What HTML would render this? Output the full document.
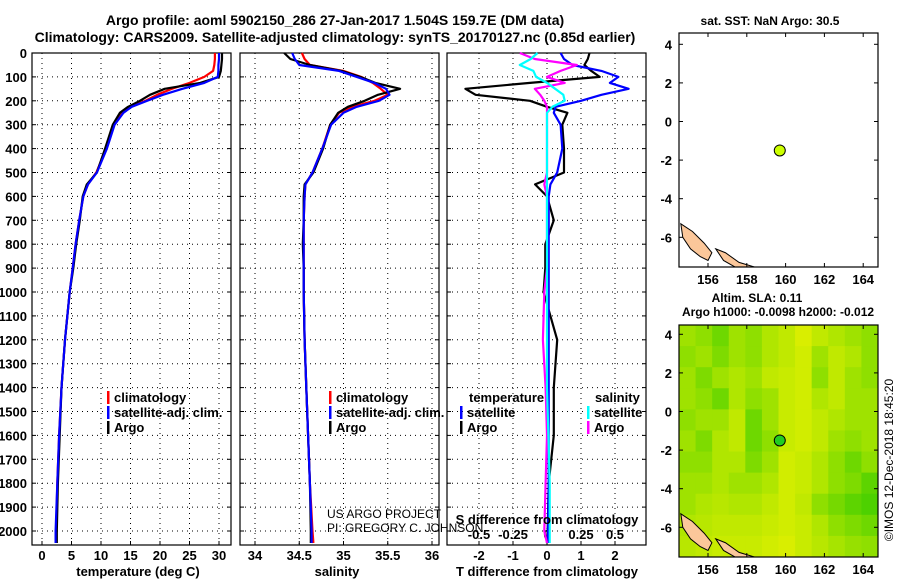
<!DOCTYPE html>
<html><head><meta charset="utf-8"><style>
html,body{margin:0;padding:0;background:#fff;}
svg{display:block;font-family:"Liberation Sans",sans-serif;}
</style></head><body>
<svg id="c" width="900" height="580" viewBox="0 0 900 580" xmlns="http://www.w3.org/2000/svg">
<text x="335" y="25" text-anchor="middle" font-size="14" font-weight="bold">Argo profile: aoml 5902150_286 27-Jan-2017 1.504S 159.7E (DM data)</text>
<text x="335" y="42" text-anchor="middle" font-size="14" font-weight="bold">Climatology: CARS2009. Satellite-adjusted climatology: synTS_20170127.nc (0.85d earlier)</text>
<g id="plots"></g>
<text x="327" y="518" font-size="12">US ARGO PROJECT</text>
<text x="327" y="532" font-size="12">PI: GREGORY C. JOHNSON</text>
<text x="547" y="524" text-anchor="middle" font-size="13" font-weight="bold">S difference from climatology</text>
<text x="138" y="576" text-anchor="middle" font-size="13" font-weight="bold">temperature (deg C)</text>
<text x="337" y="576" text-anchor="middle" font-size="13" font-weight="bold">salinity</text>
<text x="547" y="576" text-anchor="middle" font-size="13" font-weight="bold">T difference from climatology</text>
<text x="770" y="25" text-anchor="middle" font-size="12" font-weight="bold">sat. SST: NaN Argo: 30.5</text>
<text x="757" y="302" text-anchor="middle" font-size="12" font-weight="bold">Altim. SLA: 0.11</text>
<text x="778" y="316" text-anchor="middle" font-size="12" font-weight="bold">Argo h1000: -0.0098 h2000: -0.012</text>
<text transform="translate(893,460) rotate(-90)" text-anchor="middle" font-size="12">©IMOS 12-Dec-2018 18:45:20</text>
</svg>
<script>
// depth levels
const depths=[0,25,50,75,100,125,150,175,200,225,250,300,400,500,550,600,700,800,900,1000,1200,1400,1600,1800,2000,2050];
const tempArgo=[30.5,30.5,30.4,30.3,30,26.8,20.8,18.3,16.6,14.6,13.2,12,10.7,9.3,7.6,6.9,6.4,5.8,5.3,4.7,3.9,3.3,3,2.7,2.5,2.5];
const tempClim=[29.3,29.3,29.2,29,27.5,25,22,19.5,17.5,15,13.6,12.2,10.9,9.2,7.8,7,6.3,5.7,5.2,4.7,3.9,3.3,2.9,2.6,2.4,2.3];
const tempSat=[30,30,29.9,29.9,29.8,27.5,23.8,20.5,17.8,15.2,13.8,12.3,11,9.3,7.8,7,6.3,5.7,5.2,4.7,3.9,3.3,2.9,2.6,2.3,2.3];
const salArgo=[34.33,34.4,34.62,34.98,35.19,35.36,35.64,35.39,35.24,35.05,34.94,34.85,34.77,34.66,34.56,34.55,34.55,34.54,34.55,34.55,34.56,34.58,34.6,34.62,34.63,34.63];
const salClim=[34.53,34.56,34.62,35,35.2,35.33,35.42,35.5,35.35,35.1,34.95,34.85,34.76,34.65,34.57,34.56,34.55,34.55,34.55,34.55,34.56,34.58,34.6,34.62,34.65,34.66];
const salSat=[34.42,34.45,34.5,34.95,35.15,35.35,35.48,35.52,35.4,35.15,35,34.86,34.76,34.65,34.57,34.56,34.55,34.55,34.55,34.55,34.56,34.58,34.6,34.62,34.64,34.64];
const dTArgo=[1.25,1.2,1.1,1.3,1.55,-0.5,-2.4,-2.1,-0.5,0,0.6,0.45,0.5,0.5,-0.35,0,0.2,-0.05,-0.05,-0.1,0.3,0.2,0.2,0.05,0.02,0];
const dTSat=[0.4,0.5,0.75,1.6,2.1,1.85,2.4,1.6,1,0.25,0.2,0.4,0.45,0.3,0.1,0.05,0.05,0.05,0.05,0.05,0.05,0.05,0.05,0.05,0.03,0.03];
const dSSat=[-0.07,-0.12,-0.2,-0.1,-0.08,0,0.06,0.12,0.13,0.04,0,0,0,0,0,0,0,0,0,0,0,0,0.01,0.02,0.02,0.02];
const dSArgo=[-0.2,-0.09,0.22,0.1,0,0.13,-0.09,-0.05,-0.02,0,0,0,0,0,-0.02,0,0,0,0,-0.02,-0.03,-0.01,0,-0.01,-0.02,0];
const depthTicks=[0,100,200,300,400,500,600,700,800,900,1000,1100,1200,1300,1400,1500,1600,1700,1800,1900,2000];
const tTicks=[0,5,10,15,20,25,30];
const sTicks=[34,34.5,35,35.5,36];
const dTTicks=[-2,-1,0,1,2];
const dSTickLabels=["-0.5","-0.25","0","0.25","0.5"];
const dSTicks=[-0.5,-0.25,0,0.25,0.5];
const lonTicks=[156,158,160,162,164];
const latTicks=[4,2,0,-2,-4,-6];
const argoLon=159.7, argoLat=-1.5;
// SLA field (rows top->bottom, cols left->right), 0=green .. 1=yellow
const slaGrid=[
[0.6,0.5,0.3,0.6,0.5,0.7,0.8,0.95,0.8,0.7,0.6,0.5],
[0.5,0.6,0.4,0.6,0.5,0.7,0.8,0.9,0.6,0.8,0.7,0.5],
[0.6,0.4,0.6,0.7,0.6,0.8,0.85,0.9,0.5,0.8,0.6,0.5],
[0.6,0.5,0.3,0.7,0.5,0.6,0.85,0.9,0.7,0.8,0.6,0.6],
[0.5,0.6,0.6,0.8,0.3,0.6,0.85,0.9,0.8,0.7,0.6,0.6],
[0.6,0.4,0.7,0.8,0.3,0.5,0.85,0.9,0.8,0.6,0.5,0.6],
[0.5,0.5,0.7,0.7,0.4,0.6,0.9,0.85,0.7,0.5,0.3,0.5],
[0.6,0.6,0.7,0.6,0.6,0.7,0.9,0.85,0.7,0.5,0.4,0.2],
[0.6,0.7,0.75,0.7,0.7,0.8,0.9,0.8,0.5,0.35,0.2,0.1],
[0.7,0.75,0.8,0.8,0.8,0.85,0.9,0.85,0.7,0.5,0.4,0.3],
[0.75,0.8,0.85,0.85,0.85,0.9,0.95,0.85,0.75,0.65,0.55,0.5]];

const NS="http://www.w3.org/2000/svg";
const root=document.getElementById('plots');
function mk(tag,at,parent){const e=document.createElementNS(NS,tag);for(const k in at)e.setAttribute(k,at[k]);(parent||root).appendChild(e);return e;}
const Y0=53, PY=0.239, PB=545;
const yD=d=>Y0+d*PY;
const panels=[
 {x0:32,x1:231,fx:v=>42+v*5.9,ticks:tTicks,labels:tTicks.map(String)},
 {x0:240,x1:439,fx:v=>255+(v-34)*88.5,ticks:sTicks,labels:sTicks.map(String)},
 {x0:447,x1:646,fx:v=>547+v*34,ticks:dTTicks,labels:dTTicks.map(String)}];
const fS=v=>547+v*136;
panels.forEach((p,i)=>{
  const g=mk('g',{});
  
  
  depthTicks.forEach(d=>{ if(d>0){const l=mk('line',{x1:p.x0,x2:p.x1,y1:yD(d),y2:yD(d),stroke:'#000','stroke-width':1,'stroke-dasharray':'1,4'},g);
    }
    const t1=mk('line',{x1:p.x0,x2:p.x0+4,y1:yD(d),y2:yD(d),stroke:'#000'},g);
    const t2=mk('line',{x1:p.x1-4,x2:p.x1,y1:yD(d),y2:yD(d),stroke:'#000'},g);});
  p.ticks.forEach((v,j)=>{const x=p.fx(v);
    const l=mk('line',{x1:x,x2:x,y1:Y0,y2:PB,stroke:'#000','stroke-dasharray':'1,4'},g);
    const tk=mk('line',{x1:x,x2:x,y1:PB-4,y2:PB,stroke:'#000'},g);
    const t=mk('text',{x:x,y:560,'text-anchor':'middle','font-size':13,'font-weight':'bold'},g);t.textContent=p.labels[j];
    });
  const r=mk('rect',{x:p.x0,y:Y0,width:p.x1-p.x0,height:PB-Y0,fill:'none',stroke:'#000','stroke-width':1.2},g);
  
});
depthTicks.forEach(d=>{const t=mk('text',{x:27,y:yD(d)+5,'text-anchor':'end','font-size':13,'font-weight':'bold'});t.textContent=d;
  });
dSTicks.forEach((v,j)=>{const t=mk('text',{x:fS(v),y:539,'text-anchor':'middle','font-size':13,'font-weight':'bold'});t.textContent=dSTickLabels[j];
  });
function line(vals,fx,color,name){const pts=vals.map((v,i)=>fx(v).toFixed(1)+','+yD(depths[i]).toFixed(1)).join(' ');
  const e=mk('polyline',{points:pts,fill:'none',stroke:color,'stroke-width':2.2,'stroke-linejoin':'round'});
  }
line(tempClim,panels[0].fx,'#f00','temp-climatology-line');
line(tempArgo,panels[0].fx,'#000','temp-argo-line');
line(tempSat,panels[0].fx,'#00f','temp-satellite-line');
line(salClim,panels[1].fx,'#f00','sal-climatology-line');
line(salArgo,panels[1].fx,'#000','sal-argo-line');
line(salSat,panels[1].fx,'#00f','sal-satellite-line');
line(dTArgo,panels[2].fx,'#000','tdiff-argo-line');
line(dTSat,panels[2].fx,'#00f','tdiff-satellite-line');
line(dSArgo,fS,'#f0f','sdiff-argo-line');
line(dSSat,fS,'#0ff','sdiff-satellite-line');
function legend(x,y,color,label,name){const b=mk('rect',{x:x,y:y-11,width:2.5,height:13,fill:color});
  const t=mk('text',{x:x+7,y:y,'font-size':13,'font-weight':'bold'});t.textContent=label;}
legend(107,402,'#f00','climatology','legend-climatology');
legend(107,417,'#00f','satellite-adj. clim.','legend-satellite-adj');
legend(107,432,'#000','Argo','legend-argo');
legend(329,402,'#f00','climatology','legend2-climatology');
legend(329,417,'#00f','satellite-adj. clim.','legend2-satellite-adj');
legend(329,432,'#000','Argo','legend2-argo');
{const t=mk('text',{x:469,y:402,'font-size':13,'font-weight':'bold'});t.textContent='temperature';}
{const t=mk('text',{x:595,y:402,'font-size':13,'font-weight':'bold'});t.textContent='salinity';}
legend(460,417,'#00f','satellite','legend-tdiff-satellite');
legend(460,432,'#000','Argo','legend-tdiff-argo');
legend(587,417,'#0ff','satellite','legend-sdiff-satellite');
legend(587,432,'#f0f','Argo','legend-sdiff-argo');

// maps
const MX0=679,MX1=878;
const lonX=l=>708+(l-156)*19.4;
function slaColor(v){const r=Math.round(60+v*165),g=Math.round(205+v*35);return `rgb(${r},${g},0)`;}
function drawMap(top,bottom,y4,withSla,name){
  const latY=l=>y4+(4-l)*19.3;
  const g=mk('g',{});
  const cp='clip-'+name;const cpe=mk('clipPath',{id:cp},g);mk('rect',{x:MX0,y:top,width:MX1-MX0,height:bottom-top},cpe);
  const inner=mk('g',{'clip-path':'url(#'+cp+')'},g);
  if(withSla){const rows=slaGrid.length,cols=slaGrid[0].length;const cw=(MX1-MX0)/cols,ch=(bottom-top)/rows;
    slaGrid.forEach((row,r)=>row.forEach((v,c)=>{
      const cell=mk('rect',{x:MX0+c*cw,y:top+r*ch,width:cw+0.5,height:ch+0.5,fill:slaColor(v)},inner);
      }));}
  const land1=mk('path',{d:`M${lonX(154.6)},${latY(-5.3)} L${lonX(155.2)},${latY(-5.7)} L${lonX(155.8)},${latY(-6.3)} L${lonX(156.2)},${latY(-6.8)} L${lonX(156)},${latY(-7.2)} L${lonX(155.6)},${latY(-7.0)} L${lonX(155.1)},${latY(-6.6)} L${lonX(154.7)},${latY(-6.0)} Z`,fill:'#fbc79a',stroke:'#000','stroke-width':1},inner);
  
  const land2=mk('path',{d:`M${lonX(156.4)},${latY(-6.6)} L${lonX(156.9)},${latY(-6.8)} L${lonX(157.6)},${latY(-7.3)} L${lonX(158.6)},${latY(-7.6)} L${lonX(157.5)},${latY(-7.6)} L${lonX(156.8)},${latY(-7.2)} Z`,fill:'#fbc79a',stroke:'#000','stroke-width':1},inner);
  
  const dot=mk('circle',{cx:lonX(argoLon),cy:latY(argoLat),r:5.5,fill:withSla?'#22cc22':'#ccff00',stroke:'#000','stroke-width':1},g);
  
  const fr=mk('rect',{x:MX0,y:top,width:MX1-MX0,height:bottom-top,fill:'none',stroke:'#000','stroke-width':1.2},g);
  
  lonTicks.forEach(l=>{const x=lonX(l);mk('line',{x1:x,x2:x,y1:bottom-4,y2:bottom,stroke:'#000'},g);mk('line',{x1:x,x2:x,y1:top,y2:top+4,stroke:'#000'},g);
    const t=mk('text',{x:x,y:bottom+17,'text-anchor':'middle','font-size':13,'font-weight':'bold'},g);t.textContent=l;
    });
  latTicks.forEach(l=>{const y=latY(l);mk('line',{x1:MX0,x2:MX0+4,y1:y,y2:y,stroke:'#000'},g);mk('line',{x1:MX1-4,x2:MX1,y1:y,y2:y,stroke:'#000'},g);
    const t=mk('text',{x:672,y:y+5,'text-anchor':'end','font-size':13,'font-weight':'bold'},g);t.textContent=l;
    });
}
drawMap(33,267,44.3,false,'sst-map');
drawMap(325,557,334.3,true,'sla-map');
</script>
</body></html>
